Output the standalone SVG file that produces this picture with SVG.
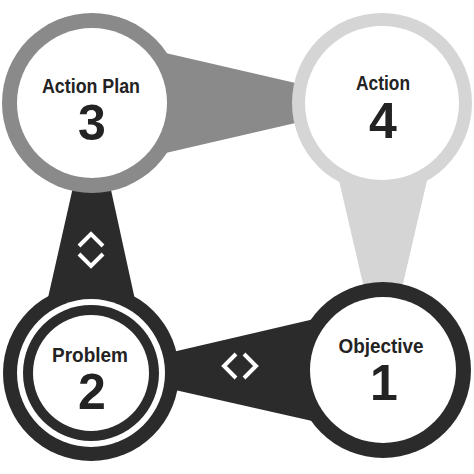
<svg xmlns="http://www.w3.org/2000/svg" width="474" height="474" viewBox="0 0 474 474">
<style>
.dark{fill:#2b2b2b}
.mid{fill:#8a8a8a}
.light{fill:#d5d5d5}
.white{fill:#ffffff}
.lbl{font-family:"Liberation Sans",Arial,sans-serif;font-weight:bold;font-size:21px;fill:#232323;text-anchor:middle}
.num{font-family:"Liberation Sans",Arial,sans-serif;font-weight:bold;font-size:50px;fill:#232323;text-anchor:middle}
.chev{fill:none;stroke:#ffffff;stroke-width:4;stroke-linejoin:miter}
</style>
<rect width="474" height="474" fill="#ffffff"/>
<g id="connectors">
<polygon class="mid" points="92,36 92,170 382,103"/>
<polygon class="light" points="321,103 445,103 383,370"/>
<polygon class="dark" points="31,373 151,373 92,103"/>
<polygon class="dark" points="383,303 383,437 91,371"/>
<polyline class="chev" points="79,246 91,234 103,246"/>
<polyline class="chev" points="79,254 91,266 103,254"/>
<polyline class="chev" points="236,354 224,366 236,378"/>
<polyline class="chev" points="244,354 256,366 244,378"/>
</g>
<g id="action-plan">
<circle class="mid" cx="92" cy="103" r="90"/>
<circle class="white" cx="92" cy="103" r="75"/>
<text class="lbl" x="91" y="93" textLength="98" lengthAdjust="spacingAndGlyphs">Action Plan</text>
<text class="num" x="92" y="140">3</text>
</g>
<g id="action">
<circle class="light" cx="382" cy="103" r="90"/>
<circle class="white" cx="382" cy="103" r="77"/>
<text class="lbl" x="383" y="90" textLength="54" lengthAdjust="spacingAndGlyphs">Action</text>
<text class="num" x="383" y="138">4</text>
</g>
<g id="problem">
<circle class="dark" cx="91" cy="373" r="88"/>
<circle class="white" cx="91" cy="373" r="74"/>
<circle class="dark" cx="91" cy="373" r="68"/>
<circle class="white" cx="91" cy="373" r="58"/>
<text class="lbl" x="90" y="362" textLength="76" lengthAdjust="spacingAndGlyphs">Problem</text>
<text class="num" x="92" y="409">2</text>
</g>
<g id="objective">
<circle class="dark" cx="383" cy="370" r="88"/>
<circle class="white" cx="383" cy="370" r="73"/>
<text class="lbl" x="381" y="353" textLength="85" lengthAdjust="spacingAndGlyphs">Objective</text>
<text class="num" x="384" y="400">1</text>
</g>
</svg>
